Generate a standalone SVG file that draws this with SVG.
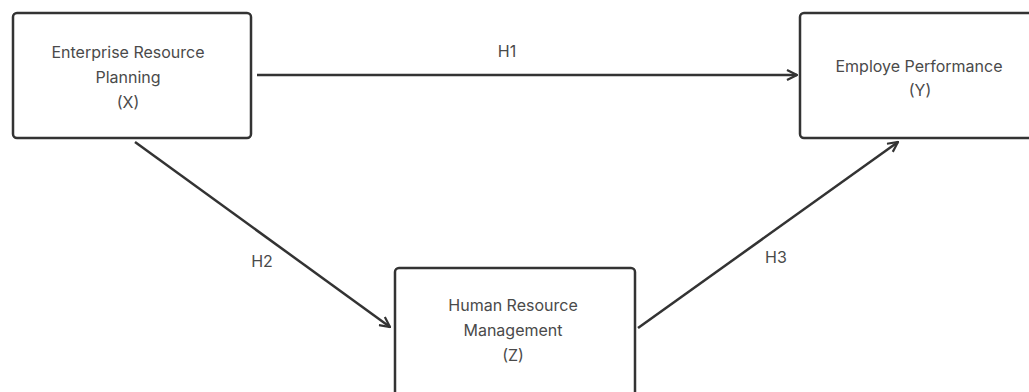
<svg xmlns="http://www.w3.org/2000/svg" width="1029" height="392" viewBox="0 0 1029 392">
<style>
.box{fill:#fff;stroke:#333;stroke-width:2.5}
.t{font-family:Inter,"Liberation Sans",sans-serif;font-size:16px;fill:#4a4a4a;text-anchor:middle}
.c{stroke:#333;stroke-width:2.5;fill:none;marker-end:url(#ah)}
</style>
<defs>
<marker id="ah" viewBox="0 0 12 12" refX="11" refY="6" markerWidth="12" markerHeight="12" markerUnits="userSpaceOnUse" orient="auto">
<path d="M1,1 L11,6 L1,11" fill="none" stroke="#333" stroke-width="2.2"/>
</marker>
</defs>
<rect width="1029" height="392" fill="#fff"/>
<g id="connectors">
<line class="c" x1="257" y1="75" x2="797" y2="75"/>
<line class="c" x1="135" y1="142" x2="390" y2="327"/>
<line class="c" x1="638" y1="328" x2="898" y2="142"/>
<text class="t" x="507" y="57">H1</text>
<text class="t" x="262" y="267">H2</text>
<text class="t" x="776" y="263">H3</text>
</g>
<g id="nodeX">
<rect class="box" x="13" y="13" width="238" height="125" rx="4"/>
<text class="t" x="128" y="58">Enterprise Resource</text>
<text class="t" x="128" y="83">Planning</text>
<text class="t" x="128" y="108">(X)</text>
</g>
<g id="nodeY">
<rect class="box" x="800" y="13" width="240" height="125" rx="4"/>
<text class="t" x="919" y="72">Employe Performance</text>
<text class="t" x="920" y="96">(Y)</text>
</g>
<g id="nodeZ">
<rect class="box" x="395" y="268" width="240" height="140" rx="4"/>
<text class="t" x="513" y="311">Human Resource</text>
<text class="t" x="513" y="336">Management</text>
<text class="t" x="513" y="361">(Z)</text>
</g>
</svg>
